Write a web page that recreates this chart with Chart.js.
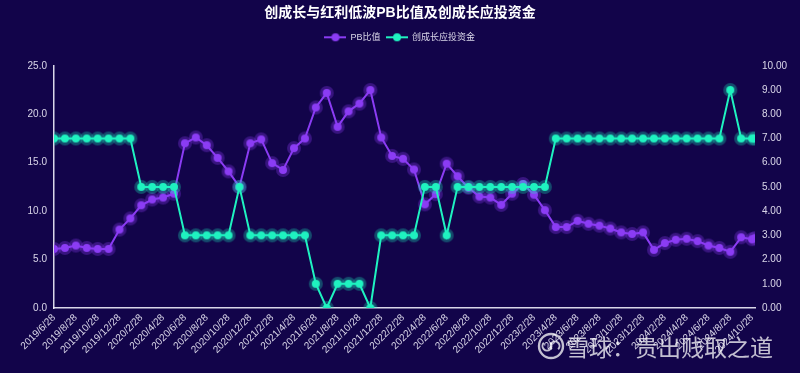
<!DOCTYPE html>
<html>
<head>
<meta charset="utf-8">
<script src="https://cdn.jsdelivr.net/npm/chart.js@4.4.1/dist/chart.umd.min.js"></script>
<style>
  html, body { margin: 0; padding: 0; background: #12044a; }
</style>
</head>
<body>
<canvas id="pbChart" width="800" height="373"></canvas>
<script>
// month-end sample dates (last one is a mid-month reading)
const dates = [
  '2019/6/28', '2019/7/28', '2019/8/28', '2019/9/28', '2019/10/28', '2019/11/28', '2019/12/28',
  '2020/1/28', '2020/2/28', '2020/3/28', '2020/4/28', '2020/5/28', '2020/6/28', '2020/7/28',
  '2020/8/28', '2020/9/28', '2020/10/28', '2020/11/28', '2020/12/28',
  '2021/1/28', '2021/2/28', '2021/3/28', '2021/4/28', '2021/5/28', '2021/6/28', '2021/7/28',
  '2021/8/28', '2021/9/28', '2021/10/28', '2021/11/28', '2021/12/28',
  '2022/1/28', '2022/2/28', '2022/3/28', '2022/4/28', '2022/5/28', '2022/6/28', '2022/7/28',
  '2022/8/28', '2022/9/28', '2022/10/28', '2022/11/28', '2022/12/28',
  '2023/1/28', '2023/2/28', '2023/3/28', '2023/4/28', '2023/5/28', '2023/6/28', '2023/7/28',
  '2023/8/28', '2023/9/28', '2023/10/28', '2023/11/28', '2023/12/28',
  '2024/1/28', '2024/2/28', '2024/3/28', '2024/4/28', '2024/5/28', '2024/6/28', '2024/7/28',
  '2024/8/28', '2024/9/28', '2024/10/28', '2024/11/6'
];

// 创成长 / 红利低波 PB ratio (left axis)
const pbRatio = [
  6.1, 6.2, 6.45, 6.2, 6.1, 6.1, 8.1,
  9.25, 10.6, 11.2, 11.4, 11.8, 17.0, 17.6,
  16.8, 15.5, 14.1, 12.5, 17.0,
  17.4, 14.95, 14.25, 16.5, 17.5, 20.7, 22.2,
  18.7, 20.3, 21.1, 22.5, 17.6,
  15.7, 15.4, 14.3, 10.7, 11.75, 14.9, 13.6,
  12.4, 11.5, 11.4, 10.65, 11.8,
  12.8, 11.7, 10.1, 8.35, 8.35, 9.0, 8.7,
  8.5, 8.2, 7.8, 7.65, 7.8,
  6.0, 6.7, 7.05, 7.15, 6.9, 6.45, 6.2,
  5.8, 7.3, 7.1, 7.2
];

// 创成长应投资金 (right axis)
const investFunds = [
  7, 7, 7, 7, 7, 7, 7,
  7, 5, 5, 5, 5, 3, 3,
  3, 3, 3, 5, 3,
  3, 3, 3, 3, 3, 1, 0,
  1, 1, 1, 0, 3,
  3, 3, 3, 5, 5, 3, 5,
  5, 5, 5, 5, 5,
  5, 5, 5, 7, 7, 7, 7,
  7, 7, 7, 7, 7,
  7, 7, 7, 7, 7, 7, 7,
  9, 7, 7, 7
];

const leftTicks = [0, 5, 10, 15, 20, 25];
const rightTicks = [0, 1, 2, 3, 4, 5, 6, 7, 8, 9, 10];

const PURPLE = '#8b3cf4';
const TEAL = '#1ff2c0';
const TICK_COLOR = 'rgba(232,230,244,0.92)';
const FONT = '"Liberation Sans", "Noto Sans CJK SC", sans-serif';

function monthOffset(d) {
  const [y, m, day] = d.split('/').map(Number);
  return (y - 2019) * 12 + (m - 6) + (day - 28) / 30;
}

function makeDot(color, halo) {
  const c = document.createElement('canvas');
  c.width = 16; c.height = 16;
  const g = c.getContext('2d');
  g.fillStyle = halo;
  g.beginPath(); g.arc(8, 8, 7, 0, Math.PI * 2); g.fill();
  g.fillStyle = color;
  g.beginPath(); g.arc(8, 8, 4, 0, Math.PI * 2); g.fill();
  return c;
}

function makeLegendIcon(color) {
  const c = document.createElement('canvas');
  c.width = 22; c.height = 12;
  const g = c.getContext('2d');
  g.strokeStyle = color; g.lineWidth = 2;
  g.beginPath(); g.moveTo(0, 6); g.lineTo(22, 6); g.stroke();
  g.fillStyle = color;
  g.beginPath(); g.arc(11, 6, 4, 0, Math.PI * 2); g.fill();
  return c;
}

const dots = [makeDot(PURPLE, 'rgba(139,60,244,0.32)'), makeDot(TEAL, 'rgba(31,242,192,0.3)')];
const legendIcons = [makeLegendIcon(PURPLE), makeLegendIcon(TEAL)];

// empty box under the legend so the plot starts lower
const legendGap = {
  id: 'legendGap',
  beforeInit(chart) {
    Chart.layouts.addBox(chart, {
      position: 'top',
      weight: 0,
      fullSize: true,
      options: {},
      isHorizontal: () => true,
      update(maxWidth) { this.width = maxWidth; this.height = 14; },
      draw() {},
    });
  },
};

const watermark = {
  id: 'watermark',
  afterDraw(chart) {
    const ctx = chart.ctx;
    ctx.save();
    ctx.globalAlpha = 0.75;
    ctx.strokeStyle = '#ffffff';
    ctx.lineWidth = 2.4;
    ctx.beginPath(); ctx.arc(551, 346, 12, 0, Math.PI * 2); ctx.stroke();
    ctx.lineWidth = 2;
    ctx.beginPath(); ctx.arc(547, 346, 4.5, -Math.PI * 0.25, Math.PI * 1.25); ctx.stroke();
    ctx.beginPath(); ctx.arc(555, 346, 4.5, Math.PI * 0.75, Math.PI * 2.25); ctx.stroke();
    ctx.fillStyle = '#ffffff';
    ctx.font = '23px "Noto Sans CJK SC"';
    ctx.textBaseline = 'middle';
    ctx.fillText('雪球：贵出贱取之道', 566, 347);
    ctx.restore();
  }
};

new Chart(document.getElementById('pbChart'), {
  type: 'line',
  data: {
    datasets: [
      {
        label: 'PB比值',
        data: dates.map((d, i) => ({ x: monthOffset(d), y: pbRatio[i] })),
        borderColor: PURPLE,
        backgroundColor: PURPLE,
        borderWidth: 2,
        pointStyle: dots[0],
        pointRadius: 7,
        tension: 0,
        yAxisID: 'y',
        order: 1,
      },
      {
        label: '创成长应投资金',
        data: dates.map((d, i) => ({ x: monthOffset(d), y: investFunds[i] })),
        borderColor: TEAL,
        backgroundColor: TEAL,
        borderWidth: 2,
        pointStyle: dots[1],
        pointRadius: 7,
        tension: 0,
        yAxisID: 'y1',
        order: 0,
      },
    ],
  },
  options: {
    responsive: false,
    animation: false,
    layout: { padding: 0 },
    plugins: {
      title: {
        display: true,
        text: '创成长与红利低波PB比值及创成长应投资金',
        color: '#ffffff',
        font: { family: FONT, size: 14, weight: 'bold' },
        padding: { top: 5, bottom: 5 },
      },
      legend: {
        labels: {
          color: TICK_COLOR,
          font: { family: FONT, size: 9 },
          usePointStyle: true,
          pointStyleWidth: 21,
          padding: 6,
          sort: (a, b) => a.datasetIndex - b.datasetIndex,
          generateLabels(chart) {
            const items = Chart.defaults.plugins.legend.labels.generateLabels(chart);
            items.forEach((it) => { it.pointStyle = legendIcons[it.datasetIndex]; });
            return items;
          },
        },
      },
      tooltip: { enabled: false },
    },
    scales: {
      x: {
        type: 'linear',
        min: 0,
        max: monthOffset(dates[dates.length - 1]),
        grid: { display: false, drawTicks: false },
        border: { display: true, color: 'rgba(240,238,250,0.9)', width: 1.5 },
        ticks: {
          stepSize: 2,
          includeBounds: false,
          autoSkip: false,
          minRotation: 45,
          maxRotation: 45,
          padding: 4,
          color: TICK_COLOR,
          font: { family: FONT, size: 10 },
          callback: (v) => {
            const i = dates.findIndex((d) => Math.abs(monthOffset(d) - v) < 1e-6);
            return i >= 0 ? dates[i] : '';
          },
        },
        afterFit(scale) { scale.height = 65; },
      },
      y: {
        position: 'left',
        min: leftTicks[0],
        max: leftTicks[leftTicks.length - 1],
        grid: { display: false, drawTicks: false },
        border: { display: true, color: 'rgba(240,238,250,0.9)', width: 1.5 },
        ticks: {
          stepSize: 5,
          padding: 7,
          color: TICK_COLOR,
          font: { family: FONT, size: 10 },
          callback: (v) => Number(v).toFixed(1),
        },
        afterFit(scale) { scale.width = 54; },
      },
      y1: {
        position: 'right',
        min: rightTicks[0],
        max: rightTicks[rightTicks.length - 1],
        grid: { display: false, drawTicks: false },
        border: { display: false },
        ticks: {
          stepSize: 1,
          padding: 7,
          color: TICK_COLOR,
          font: { family: FONT, size: 10 },
          callback: (v) => Number(v).toFixed(2),
        },
        afterFit(scale) { scale.width = 45; },
      },
    },
  },
  plugins: [legendGap, watermark],
});
</script>
</body>
</html>
